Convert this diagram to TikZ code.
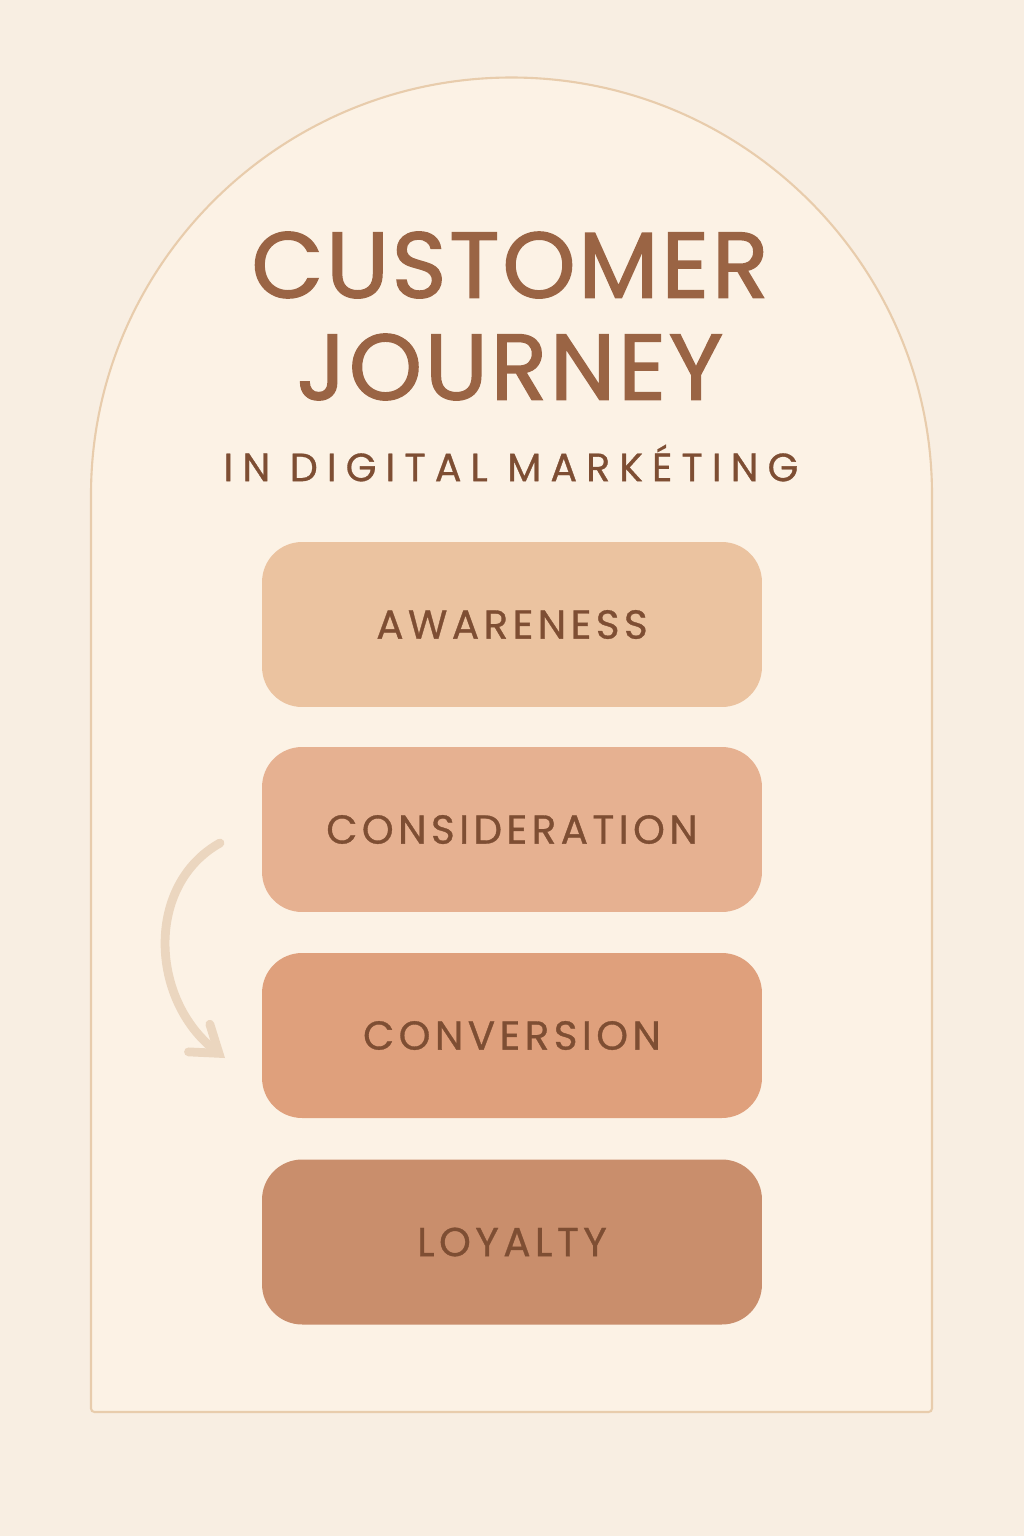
\documentclass[tikz,border=0pt]{standalone}
\usepackage{fontspec}
\setmainfont{Poppins}
\usetikzlibrary{arrows.meta}
\definecolor{paper}{HTML}{F8EEE2}
\definecolor{archfill}{HTML}{FCF2E5}
\definecolor{archline}{HTML}{E8CCAC}
\definecolor{titlebrown}{HTML}{9A6444}
\definecolor{textbrown}{HTML}{7E4E33}
\definecolor{stageA}{HTML}{EBC3A0}
\definecolor{stageB}{HTML}{E6B191}
\definecolor{stageC}{HTML}{DFA07C}
\definecolor{stageD}{HTML}{C98E6C}
\definecolor{flowarrow}{HTML}{EBD6BF}
\begin{document}
\begin{tikzpicture}[x=0.02cm,y=-0.02cm,>=Straight Barb,
  stage/.style={rounded corners=0.8cm,minimum width=10cm,minimum height=3.3cm,
    text=textbrown,font=\fontsize{23}{23}\selectfont\addfontfeature{LetterSpace=11,FakeBold=0.8}},
  headline/.style={text=titlebrown,font=\fontsize{53}{53}\selectfont\addfontfeature{LetterSpace=3,FakeBold=1.6}},
  subline/.style={text=textbrown,font=\fontsize{22.5}{22.5}\selectfont\addfontfeature{LetterSpace=23,FakeBold=0.8}}]
  \useasboundingbox (0,0) rectangle (1024,1536);
  \fill[paper] (0,0) rectangle (1024,1536);
  \draw[archline,fill=archfill,line width=1.2pt,rounded corners=2pt]
    (91,498) arc[start angle=180,end angle=360,radius=420.5] -- (932,1412) -- (91,1412) -- cycle;
  \node[headline] (title1) at (510,265) {CUSTOMER};
  \node[headline] (title2) at (510,367) {JOURNEY};
  \node[subline] (subtitle) at (511,463) {IN DIGITAL MARKÉTING};
  \node[stage,fill=stageA] (awareness) at (512,624.5) {AWARENESS};
  \node[stage,fill=stageB] (consideration) at (512,829.5) {CONSIDERATION};
  \node[stage,fill=stageC] (conversion) at (512,1035.5) {CONVERSION};
  \node[stage,fill=stageD] (loyalty) at (512,1242) {LOYALTY};
  \coordinate (flowstart) at (220,843);
  \coordinate (flowend) at (225,1058);
  \draw[flowarrow,line width=5pt,line cap=round,arrows={->[length=5mm,width=7mm,line cap=round]}]
    (flowstart) .. controls (145,885) and (150,1000) .. (flowend);
\end{tikzpicture}
\end{document}
